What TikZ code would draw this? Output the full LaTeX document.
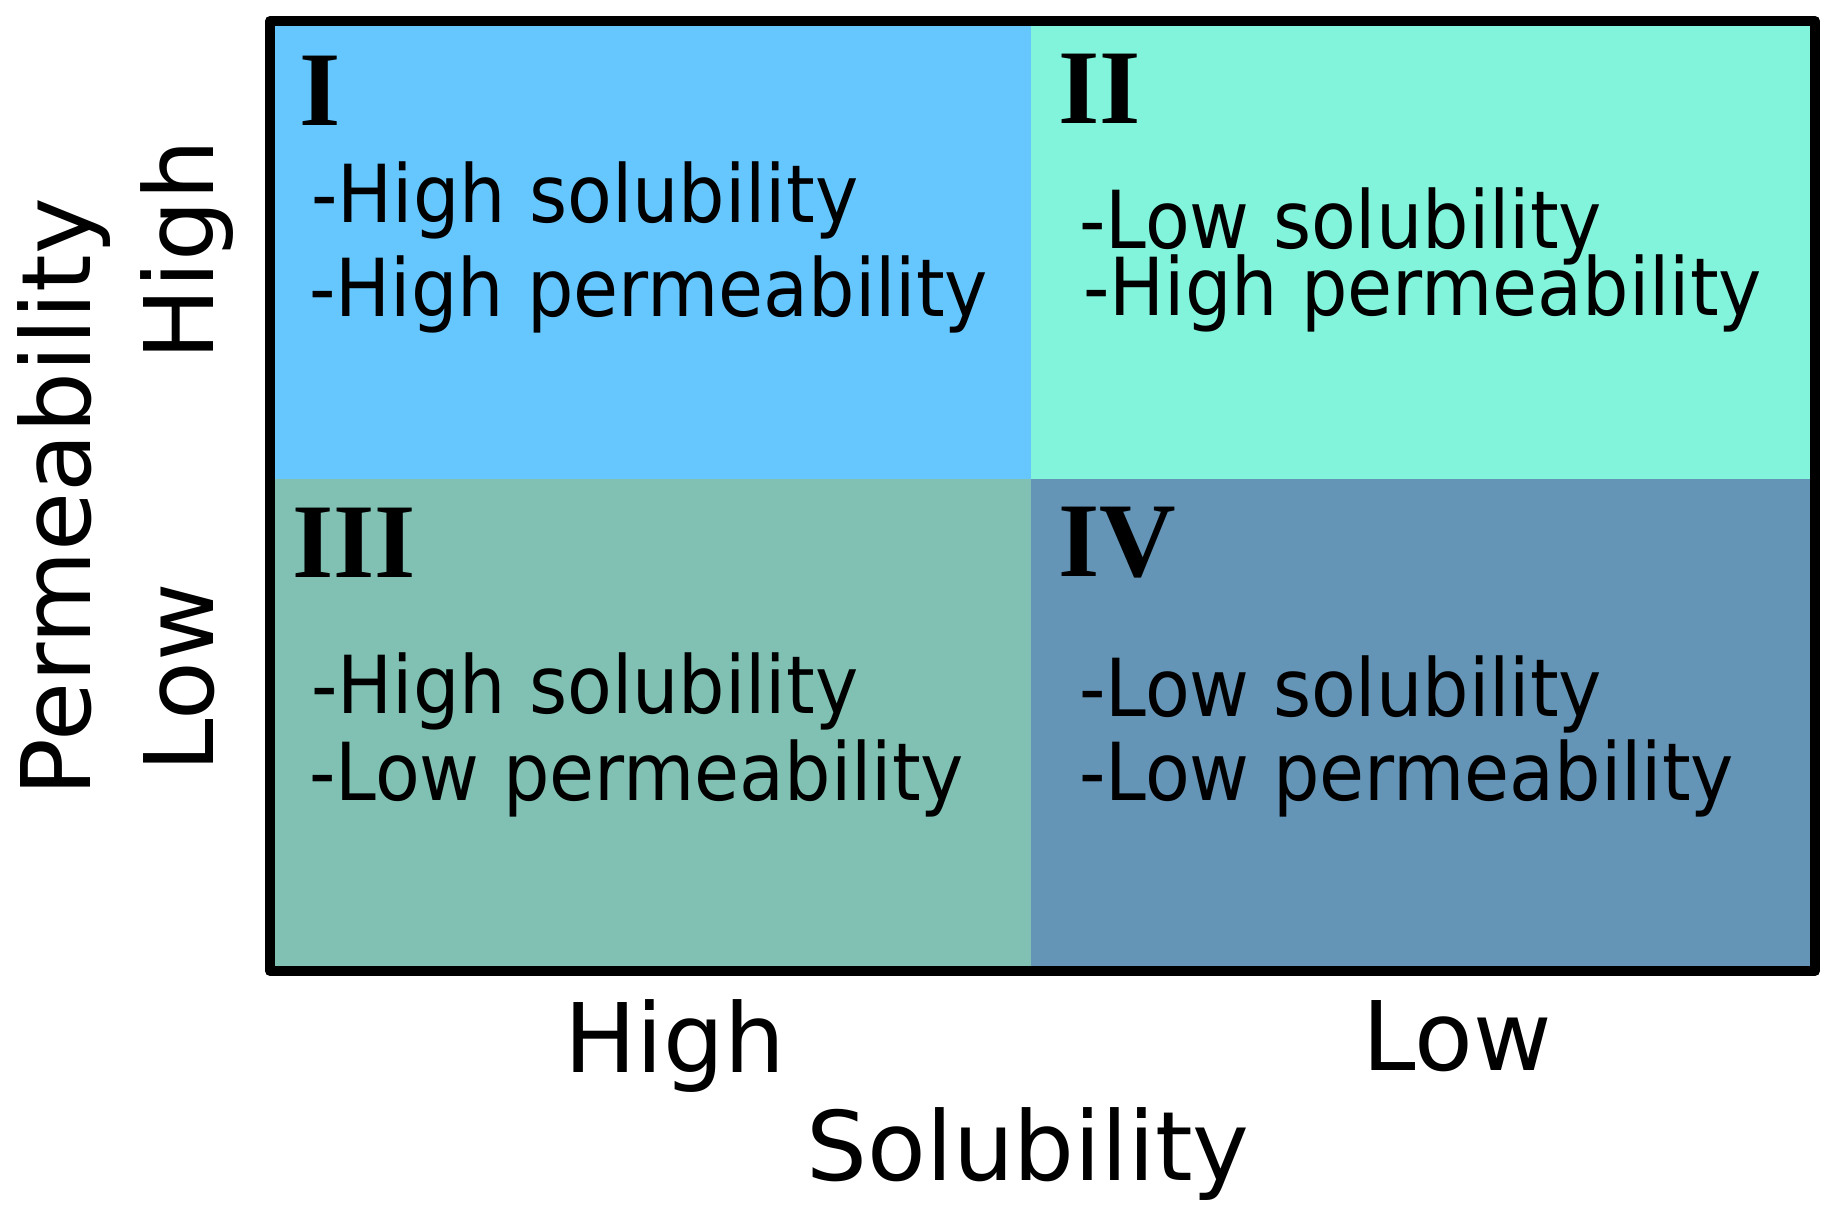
\documentclass[tikz,border=0pt]{standalone}
\usepackage{fontspec}
\newfontfamily\qfont[FakeStretch=0.915]{DejaVu Sans}
\newfontfamily\axfont{DejaVu Sans}
\newfontfamily\romfont{Liberation Serif}
\definecolor{qone}{RGB}{102,199,255}
\definecolor{qtwo}{RGB}{130,244,220}
\definecolor{qthree}{RGB}{128,193,179}
\definecolor{qfour}{RGB}{100,148,182}
\tikzset{
  qtext/.style={inner sep=0pt, anchor=base west, font=\qfont\fontsize{80}{94}\selectfont},
  roman/.style={inner sep=0pt, anchor=base west, font=\romfont\bfseries\fontsize{106}{120}\selectfont},
  axlabel/.style={inner sep=0pt, anchor=base, font=\axfont\fontsize{96}{110}\selectfont},
}
\begin{document}
\begin{tikzpicture}[x=1pt,y=-1pt]
\useasboundingbox (0,0) rectangle (1833,1214);
% quadrants
\fill[qone]   (270,21)  rectangle (1031,479);
\fill[qtwo]   (1031,21) rectangle (1815,479);
\fill[qthree] (270,479) rectangle (1031,971);
\fill[qfour]  (1031,479) rectangle (1815,971);
\draw[line width=10pt, line join=round] (270,21) rectangle (1815,971);
% roman numerals
\node[roman] (r1) at (299,126) {I};
\node[roman] (r2) at (1058,124) {II};
\node[roman] (r3) at (292,577) {III};
\node[roman] (r4) at (1058,576) {IV};
% quadrant texts
\node[qtext] (t1a) at (311,223) {-High solubility};
\node[qtext] (t1b) at (309,317) {-High permeability};
\node[qtext] (t2a) at (1079,249) {-Low solubility};
\node[qtext] (t2b) at (1083,316) {-High permeability};
\node[qtext] (t3a) at (311,713) {-High solubility};
\node[qtext] (t3b) at (309,800) {-Low permeability};
\node[qtext] (t4a) at (1079,716) {-Low solubility};
\node[qtext] (t4b) at (1079,800) {-Low permeability};
% axis labels
\node[axlabel] (xh) at (675,1072) {High};
\node[axlabel] (xl) at (1457,1070) {Low};
\node[axlabel] (xs) at (1028,1180) {Solubility};
\node[axlabel, rotate=90] (yp) at (90,497) {Permeability};
\node[axlabel, rotate=90] (yh) at (213,250) {High};
\node[axlabel, rotate=90] (yl) at (213,678) {Low};
\end{tikzpicture}
\end{document}
